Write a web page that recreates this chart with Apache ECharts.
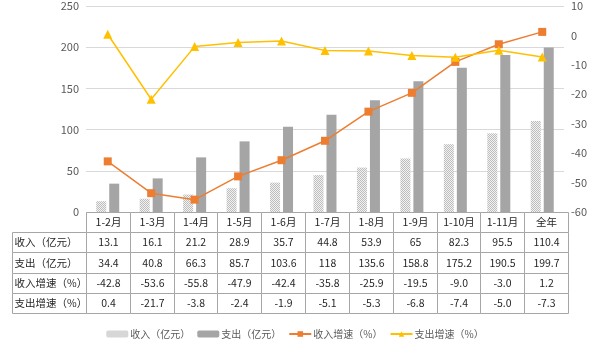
<!DOCTYPE html>
<html><head><meta charset="utf-8">
<script src="https://cdn.jsdelivr.net/npm/echarts@6/dist/echarts.min.js"></script>
<style>html,body{margin:0;padding:0;background:#fff}#c{width:590px;height:351px}</style>
</head><body><div id="c"></div>
<script>
var categories = ['1-2月','1-3月','1-4月','1-5月','1-6月','1-7月','1-8月','1-9月','1-10月','1-11月','全年'];
var income = [13.1,16.1,21.2,28.9,35.7,44.8,53.9,65,82.3,95.5,110.4];
var expense = [34.4,40.8,66.3,85.7,103.6,118,135.6,158.8,175.2,190.5,199.7];
var incomeGrowth = [-42.8,-53.6,-55.8,-47.9,-42.4,-35.8,-25.9,-19.5,-9.0,-3.0,1.2];
var expenseGrowth = [0.4,-21.7,-3.8,-2.4,-1.9,-5.1,-5.3,-6.8,-7.4,-5.0,-7.3];
var seriesNames = ['收入（亿元）','支出（亿元）','收入增速（%）','支出增速（%）'];
var leftTicks = {min:0, max:250, interval:50};
var rightTicks = {min:-60, max:10, interval:10};

var FONT = '"Microsoft YaHei","Noto Sans CJK SC","Noto Sans",sans-serif';

// hatch pattern
var pc = document.createElement('canvas');
pc.width = 4; pc.height = 4;
var pctx = pc.getContext('2d');
pctx.fillStyle = '#f2f2f2'; pctx.fillRect(0,0,4,4);
pctx.fillStyle = '#bdbdbd';
pctx.fillRect(0,0,1,1); pctx.fillRect(2,0,1,1); pctx.fillRect(1,1,1,1); pctx.fillRect(3,1,1,1);
pctx.fillRect(0,2,1,1); pctx.fillRect(2,2,1,1); pctx.fillRect(1,3,1,1); pctx.fillRect(3,3,1,1);
var hatch = {image: pc, repeat: 'repeat'};

// table cells built from data
var labelColW = 1.689;
var rows = [
  income.map(function(v){return String(v);}),
  expense.map(function(v){return String(v);}),
  incomeGrowth.map(function(v){return v.toFixed(1);}),
  expenseGrowth.map(function(v){return v.toFixed(1);})
];
var cells = [];
categories.forEach(function(c,i){ cells.push([i, i+1, 0, c, 'center']); });
rows.forEach(function(r, ri){
  cells.push([-labelColW, 0, ri+1, seriesNames[ri], 'left']);
  r.forEach(function(t, i){ cells.push([i, i+1, ri+1, t, 'center']); });
});

var chart = echarts.init(document.getElementById('c'), null, {renderer:'canvas'});
chart.setOption({
  animation: false,
  backgroundColor: '#fff',
  textStyle: {fontFamily: FONT},
  legend: {
    bottom: 7, left: 'center', itemWidth: 22, itemHeight: 7, itemGap: 7,
    textStyle: {color:'#595959', fontSize: 10, fontFamily: FONT, padding:[0,0,0,-3]},
    data: seriesNames
  },
  grid: [
    {left: 86, right: 22, top: 6, height: 206},
    {left: 12, right: 22, top: 212, height: 101}
  ],
  xAxis: [
    {type:'category', gridIndex:0, data: categories, axisLine:{show:false}, axisTick:{show:false}, axisLabel:{show:false}},
    {type:'value', gridIndex:1, min: -labelColW, max: 11, show:false}
  ],
  yAxis: [
    {type:'value', gridIndex:0, min:leftTicks.min, max:leftTicks.max, interval:leftTicks.interval,
     axisLine:{show:false}, axisTick:{show:false},
     axisLabel:{color:'#595959', fontSize:11, margin:7, fontFamily: FONT},
     splitLine:{lineStyle:{color:'#d9d9d9'}}},
    {type:'value', gridIndex:0, position:'right', min:rightTicks.min, max:rightTicks.max, interval:rightTicks.interval,
     axisLine:{show:false}, axisTick:{show:false},
     axisLabel:{color:'#595959', fontSize:11, margin:7, fontFamily: FONT},
     splitLine:{show:false}},
    {type:'value', gridIndex:1, min:0, max:5, inverse:true, show:false}
  ],
  series: [
    {name: seriesNames[0], type:'bar', xAxisIndex:0, yAxisIndex:0, data: income, barWidth: 10, barGap:'30%',
     itemStyle:{color: hatch}},
    {name: seriesNames[1], type:'bar', xAxisIndex:0, yAxisIndex:0, data: expense, barWidth: 10, barGap:'30%',
     itemStyle:{color:'#a5a5a5'}},
    {name: seriesNames[2], type:'line', xAxisIndex:0, yAxisIndex:1, data: incomeGrowth,
     symbol:'rect', symbolSize:8, lineStyle:{color:'#ed7d31', width:1.5}, itemStyle:{color:'#ed7d31'}, z:5},
    {name: seriesNames[3], type:'line', xAxisIndex:0, yAxisIndex:1, data: expenseGrowth,
     symbol:'triangle', symbolSize:9, lineStyle:{color:'#ffc000', width:1.5}, itemStyle:{color:'#ffc000'}, z:5},
    {type:'custom', xAxisIndex:1, yAxisIndex:2, data: cells, silent:true,
     renderItem: function(params, api){
       var p0 = api.coord([api.value(0), api.value(2)]);
       var p1 = api.coord([api.value(1), api.value(2)+1]);
       var x0 = Math.round(p0[0])+0.5, y0 = Math.round(p0[1])+0.5;
       var x1 = Math.round(p1[0])+0.5, y1 = Math.round(p1[1])+0.5;
       var d = cells[params.dataIndex];
       var left = d[4]==='left';
       return {type:'group', children:[
         {type:'rect', shape:{x:x0, y:y0, width:x1-x0, height:y1-y0},
          style:{fill:'#fff', stroke:'#a6a6a6', lineWidth:1}},
         {type:'text', style:{text:d[3], x: left ? x0+2 : (x0+x1)/2, y:(y0+y1)/2,
          align: left?'left':'center', verticalAlign:'middle', fill:'#262626', fontSize:10.5, fontFamily: FONT}}
       ]};
     }}
  ]
});
</script></body></html>
